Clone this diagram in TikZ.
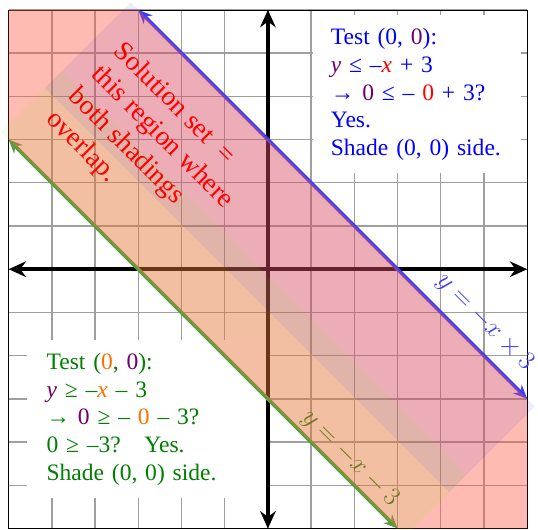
\documentclass[tikz,border=0pt]{standalone}
\usepackage{fontspec}
\setmainfont{Liberation Serif}
\usetikzlibrary{arrows.meta}
\definecolor{lineblue}{RGB}{60,60,255}
\definecolor{linegreen}{RGB}{80,160,60}
\definecolor{textgreen}{RGB}{0,128,0}
\definecolor{tpurple}{RGB}{110,0,110}
\definecolor{torange}{RGB}{255,110,0}
\definecolor{shadered}{RGB}{255,90,70}
\tikzset{
  testbox/.style={fill=white, align=left, anchor=north west, inner ysep=0.3cm,
    font=\fontsize{15.5}{18.2}\selectfont},
  eqlabel/.style={rotate=-45, font=\fontsize{18}{21}\selectfont},
  axis/.style={line width=3pt, {Stealth[length=4mm,width=3.6mm]}-{Stealth[length=4mm,width=3.6mm]}},
}
\begin{document}
\begin{tikzpicture}[>={Stealth[length=3.2mm,width=2.8mm]}]
    \useasboundingbox (-6.2,-6.02) rectangle (6.25,6.23);
    \draw[gray!75, line width=0.9pt] (-6,-6) grid (6,6);
    \draw[thin] (-6,-6) rectangle (6,6);
    % the two test boxes
    \node[testbox, text=blue, inner xsep=0.41cm, text width=4cm] (testup) at (1.04,5.88)
        {Test (0, \textcolor{tpurple}{0}):\\
         \textcolor{tpurple}{\textit{y}} ≤ –\textcolor{red}{\textit{x}} + 3\\
         → \textcolor{tpurple}{0} ≤ – \textcolor{red}{0} + 3?\\
         Yes.\\
         Shade (0, 0) side.};
    \node[testbox, text=textgreen, inner xsep=0.45cm, text width=4.73cm] (testlow) at (-5.58,-1.64)
        {Test (\textcolor{torange}{0}, \textcolor{tpurple}{0}):\\
         \textcolor{tpurple}{\textit{y}} ≥ –\textcolor{torange}{\textit{x}} – 3\\
         → \textcolor{tpurple}{0} ≥ – \textcolor{torange}{0} – 3?\\
         0 ≥ –3?\quad Yes.\\
         Shade (0, 0) side.};
    % axes
    \coordinate (xl) at (-6,0); \coordinate (xr) at (6,0);
    \coordinate (yb) at (0,-6); \coordinate (yt) at (0,6);
    \draw[axis] (xl) -- (xr);
    \draw[axis] (yb) -- (yt);
    % boundary lines
    \coordinate (btop) at (-3,6); \coordinate (bend) at (6,-3);
    \coordinate (gtop) at (-6,3); \coordinate (gend) at (3,-6);
    \draw[lineblue, line width=2.4pt, <->] (btop) -- (bend);
    \draw[linegreen, line width=2.4pt, <->] (gtop) -- (gend);
    \node[eqlabel, text=lineblue] (blab) at (5.02,-1.23) {$y=-x\times 3$};
    \node[eqlabel, text=textgreen] (glab) at (1.90,-4.38) {$y=-x-3$};
    % shading
    \fill[shadered, opacity=0.42] (-6,6) -- (btop) -- (bend) -- (6,-6) -- (gend) -- (gtop) -- cycle;
    \fill[blue, opacity=0.07] (-3.177,6.177) -- (6.177,-3.177) -- (4.197,-5.157) -- (-5.157,4.197) -- cycle;
    \fill[green!60!yellow, opacity=0.08] (-6.177,3.177) -- (3.177,-6.177) -- (4.591,-4.763) -- (-4.763,4.591) -- cycle;
    \node[red, rotate=-45, align=left, font=\fontsize{18}{21}\selectfont] (soln) at (-2.71,2.78)
        {Solution set\ \ =\\this region where\\both shadings\\overlap.};
\end{tikzpicture}
\end{document}
